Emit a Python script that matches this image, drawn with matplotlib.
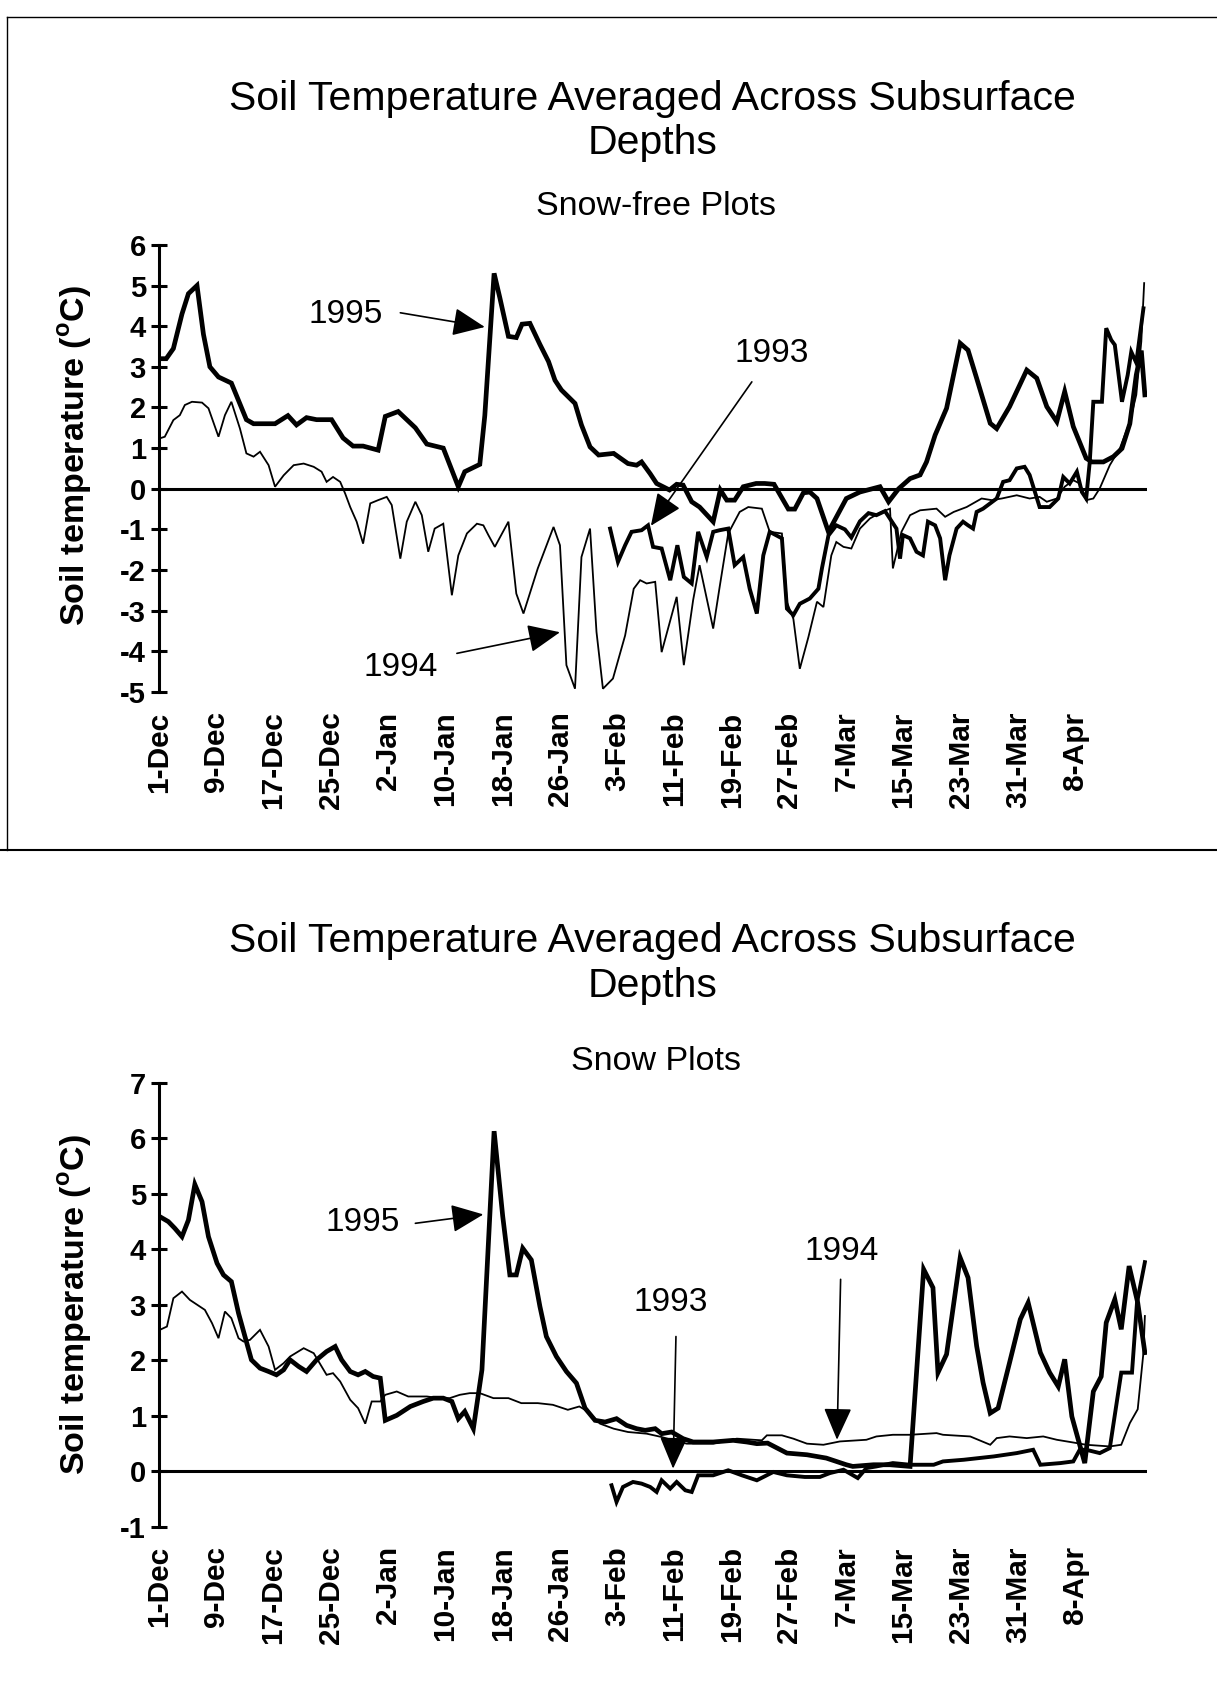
import matplotlib.pyplot as plt
from matplotlib.lines import Line2D

plt.rcParams['font.family'] = ['Liberation Sans', 'DejaVu Sans']
plt.rcParams['axes.unicode_minus'] = False

# days are counted from 1 December
tick_days = [0, 8, 16, 24, 32, 40, 48, 56, 64, 72, 80, 88, 96, 104, 112, 120, 128]
tick_labels = ['1-Dec', '9-Dec', '17-Dec', '25-Dec', '2-Jan', '10-Jan', '18-Jan',
               '26-Jan', '3-Feb', '11-Feb', '19-Feb', '27-Feb', '7-Mar', '15-Mar',
               '23-Mar', '31-Mar', '8-Apr']

# --- Snow-free plots ---
free_1995_day = [0, 1, 2, 3.2, 4.1, 5.3, 6.2, 7.1, 8.3, 10.1, 12.2, 13.2, 16.2, 18.0, 19.2,
                 20.6, 22.0, 24.1, 25.7, 27.1, 28.5, 30.6, 31.6, 33.4, 35.8, 37.4, 39.7,
                 41.8, 42.7, 44.8, 45.5, 46.8, 47.6, 48.8, 49.9, 50.7, 51.8, 53.2, 54.4,
                 55.3, 56.2, 58.1, 59.0, 60.2, 61.4, 63.5, 65.5, 66.7, 67.4, 68.6, 69.5,
                 71.3, 72.3, 73.2, 74.4, 75.5, 77.4, 78.4, 79.3, 80.4, 81.6, 83.4, 84.6,
                 85.9, 87.9, 88.8, 90.0, 90.9, 91.9, 93.5, 96.0, 97.9, 100.7, 101.9, 103.3,
                 104.9, 106.3, 107.2, 108.4, 110.0, 111.9, 113.0, 114.2, 116.1, 117.0,
                 118.8, 121.2, 122.6, 124.0, 125.4, 126.5, 127.7, 129.5, 130.3, 131.9,
                 133.3, 134.5, 135.6, 136.5, 137.2, 137.7]
free_1995_val = [3.2, 3.2, 3.45, 4.3, 4.8, 5.0, 3.8, 3.0, 2.75, 2.6, 1.7, 1.6, 1.6, 1.8, 1.57,
                 1.75, 1.7, 1.7, 1.25, 1.05, 1.05, 0.95, 1.78, 1.9, 1.5, 1.1, 1.0,
                 0.05, 0.42, 0.6, 1.8, 5.3, 4.7, 3.75, 3.72, 4.05, 4.07, 3.55, 3.13,
                 2.67, 2.43, 2.1, 1.57, 1.03, 0.83, 0.87, 0.62, 0.58, 0.66, 0.37, 0.13,
                 -0.03, 0.11, 0.09, -0.32, -0.45, -0.81, -0.03, -0.28, -0.28, 0.05, 0.13, 0.13,
                 0.11, -0.5, -0.5, -0.1, -0.08, -0.24, -1.06, -0.24, -0.08, 0.05, -0.32, 0.0,
                 0.25, 0.34, 0.66, 1.32, 1.98, 3.58, 3.41, 2.72, 1.61, 1.48,
                 2.02, 2.92, 2.72, 2.02, 1.65, 2.39, 1.53, 0.75, 0.66, 0.66,
                 0.79, 0.99, 1.6, 2.8, 3.4, 2.31]

free_1993_day = [63.0, 64.1, 65.1, 66.0, 67.4, 68.3, 69.0, 70.2, 71.4, 72.4, 73.3, 74.4, 75.3,
                 76.5, 77.4, 78.3, 79.5, 80.4, 81.6, 82.5, 83.5, 84.4, 85.3, 87.0, 87.7,
                 88.6, 89.5, 90.9, 92.1, 92.6, 93.5, 94.6, 95.8, 96.7, 97.9, 99.1, 100.2,
                 101.4, 103.0, 103.5, 103.9, 104.9, 105.8, 106.7, 107.4, 108.4, 109.1,
                 109.8, 110.4, 111.4, 112.3, 113.0, 113.7, 114.2, 115.1, 117.0, 117.9,
                 118.8, 119.8, 120.9, 121.6, 123.0, 124.4, 125.6, 126.3, 127.2, 128.2,
                 128.9, 129.5, 130.0, 130.5, 131.7, 132.3, 133.0, 133.5, 134.5, 135.3,
                 135.8, 136.5, 137.5]
free_1993_val = [-0.98, -1.8, -1.39, -1.06, -1.02, -0.9, -1.43, -1.47, -2.25, -1.39, -2.17, -2.33, -1.06,
                 -1.68, -1.06, -1.02, -0.98, -1.88, -1.68, -2.46, -3.07, -1.64, -1.06, -1.22, -2.95,
                 -3.11, -2.83, -2.7, -2.46, -1.95, -1.15, -0.9, -1.0, -1.2, -0.8, -0.6, -0.65,
                 -0.55, -0.98, -1.72, -1.14, -1.22, -1.55, -1.64, -0.81, -0.9, -1.22,
                 -2.25, -1.64, -0.98, -0.81, -0.9, -0.98, -0.57, -0.49, -0.24, 0.17,
                 0.21, 0.5, 0.54, 0.34, -0.45, -0.45, -0.24, 0.29, 0.13, 0.42,
                 -0.08, -0.24, 0.66, 2.14, 2.14, 3.95, 3.66, 3.54, 2.14, 2.8,
                 3.37, 3.1, 4.44]

free_1994_day = [0.1, 0.8, 2.0, 2.9, 3.6, 4.6, 6.0, 6.9, 8.3, 9.2, 10.1, 11.3, 12.2, 13.2, 14.1,
                 15.3, 16.2, 17.4, 18.8, 20.2, 21.6, 22.7, 23.4, 24.3, 25.3, 26.0, 26.7, 27.6,
                 28.5, 29.5, 30.6, 31.8, 32.5, 33.7, 34.6, 35.8, 36.7, 37.6, 38.5, 39.7, 40.9,
                 41.8, 43.0, 44.4, 45.3, 46.0, 46.9, 48.8, 49.9, 50.9, 52.9, 55.1, 56.0, 56.9,
                 58.1, 59.0, 60.2, 61.1, 62.0, 63.4, 65.1, 66.3, 67.2, 68.1, 69.3, 70.2, 72.3,
                 73.3, 74.6, 75.5, 77.4, 78.3, 79.5, 81.1, 82.3, 84.2, 85.3, 87.0, 87.7, 88.6,
                 89.5, 90.7, 91.9, 92.8, 93.9, 94.6, 95.6, 96.7, 97.9, 99.3, 100.9, 102.1,
                 102.5, 103.7, 104.9, 106.3, 108.6, 109.8, 111.0, 112.8, 114.9, 116.3, 117.7,
                 119.8, 121.6, 123.0, 124.0, 125.4, 126.5, 127.7, 128.6, 129.5, 130.5, 131.4,
                 132.8, 134.2, 135.6, 136.5, 137.2, 137.6]
free_1994_val = [1.24, 1.28, 1.69, 1.81, 2.06, 2.14, 2.12, 1.98, 1.28, 1.81, 2.14, 1.48, 0.87, 0.79, 0.91,
                 0.58, 0.05, 0.33, 0.58, 0.62, 0.54, 0.42, 0.17, 0.29, 0.17, -0.12, -0.45, -0.81,
                 -1.35, -0.36, -0.28, -0.2, -0.4, -1.72, -0.81, -0.32, -0.65, -1.55, -0.98, -0.86, -2.62,
                 -1.64, -1.1, -0.86, -0.9, -1.14, -1.43, -0.81, -2.58, -3.07, -1.96, -0.94, -1.39, -4.34,
                 -4.92, -1.68, -0.98, -3.52, -4.92, -4.67, -3.61, -2.46, -2.25, -2.33, -2.29, -4.02, -2.66,
                 -4.34, -2.74, -1.88, -3.44, -2.42, -1.1, -0.57, -0.45, -0.49, -1.06, -1.1, -2.79, -3.2,
                 -4.43, -3.65, -2.78, -2.91, -1.64, -1.31, -1.43, -1.47, -0.98, -0.73, -0.57, -0.49,
                 -1.96, -1.06, -0.65, -0.53, -0.49, -0.69, -0.57, -0.45, -0.24, -0.28, -0.24,
                 -0.16, -0.24, -0.2, -0.32, -0.24, 0.05, 0.21, 0.13, -0.28, -0.24, 0.01,
                 0.58, 0.99, 1.65, 2.31, 3.62, 5.06]

# --- Snow plots ---
snow_1995_day = [0.1, 1.3, 2.2, 3.2, 4.1, 5.0, 6.0, 6.9, 8.1, 9.0, 10.1, 11.1, 12.0, 12.9, 14.1,
                 15.3, 16.4, 17.4, 18.3, 19.5, 20.6, 22.0, 23.4, 24.6, 25.5, 26.7, 27.8, 28.8,
                 29.9, 30.9, 31.6, 33.2, 35.1, 36.9, 38.3, 39.7, 40.9, 41.8, 42.7, 43.9, 45.1,
                 46.8, 48.0, 49.0, 49.9, 50.8, 52.0, 53.2, 54.1, 55.5, 56.9, 58.3, 59.5, 60.9,
                 62.3, 63.9, 65.3, 66.7, 67.9, 69.3, 70.2, 71.6, 73.2, 74.6, 77.4, 80.2, 82.1,
                 83.5, 85.0, 87.7, 90.5, 93.2, 96.0, 96.9, 99.8, 102.1, 104.9, 106.8, 108.1,
                 108.8, 110.0, 111.9, 113.0, 114.2, 115.1, 116.1, 117.2, 118.8, 120.3, 121.4,
                 123.1, 124.4, 125.6, 126.5, 127.5, 128.4, 129.3, 130.5, 131.6, 132.3, 133.5,
                 134.4, 135.5, 136.7, 137.7]
snow_1995_val = [4.59, 4.5, 4.38, 4.23, 4.53, 5.17, 4.86, 4.23, 3.75, 3.54, 3.42, 2.85, 2.43, 2.01, 1.86,
                 1.8, 1.74, 1.83, 2.01, 1.89, 1.8, 2.01, 2.16, 2.25, 2.01, 1.8, 1.74, 1.8,
                 1.71, 1.68, 0.92, 1.01, 1.17, 1.26, 1.32, 1.32, 1.26, 0.95, 1.08, 0.77, 1.83,
                 6.13, 4.6, 3.54, 3.54, 4.02, 3.81, 2.97, 2.43, 2.07, 1.8, 1.59, 1.14, 0.92,
                 0.89, 0.95, 0.83, 0.77, 0.74, 0.77, 0.68, 0.71, 0.59, 0.53, 0.53, 0.56, 0.53,
                 0.5, 0.51, 0.33, 0.3, 0.24, 0.12, 0.09, 0.12, 0.12, 0.09, 3.64, 3.31,
                 1.78, 2.11, 3.85, 3.49, 2.26, 1.6, 1.05, 1.14, 1.96, 2.74, 3.04,
                 2.14, 1.78, 1.53, 2.02, 0.99, 0.57, 0.15, 1.44, 1.71, 2.68, 3.1,
                 2.56, 3.7, 3.04, 2.14]

snow_1993_day = [63.2, 63.9, 64.8, 66.2, 67.4, 68.6, 69.5, 70.2, 71.4, 72.3, 73.5, 74.4, 75.3,
                 77.4, 79.5, 81.4, 83.5, 85.8, 87.7, 90.2, 92.3, 93.7, 95.6, 97.6, 98.8, 100.2,
                 102.5, 104.9, 108.2, 109.5, 112.4, 116.6, 119.8, 122.1, 123.1, 125.9, 127.7,
                 128.6, 129.5, 131.4, 132.8, 134.4, 135.9, 136.6, 137.7]
snow_1993_val = [-0.25, -0.55, -0.28, -0.19, -0.22, -0.28, -0.37, -0.16, -0.31, -0.19, -0.34, -0.37, -0.07,
                 -0.07, 0.02, -0.07, -0.16, -0.01, -0.07, -0.1, -0.1, -0.03, 0.03, -0.12, 0.06, 0.09,
                 0.15, 0.12, 0.12, 0.18, 0.21, 0.27, 0.33, 0.39, 0.12, 0.15, 0.18,
                 0.39, 0.39, 0.33, 0.42, 1.78, 1.78, 3.04, 3.77]

snow_1994_day = [0.1, 1.1, 2.0, 3.2, 4.3, 5.7, 6.4, 7.4, 8.3, 9.2, 10.1, 11.1, 11.8, 12.7, 14.1,
                 15.3, 16.2, 17.4, 18.3, 20.2, 21.6, 23.4, 24.3, 25.3, 26.7, 27.8, 28.8, 29.7,
                 30.9, 31.6, 33.2, 34.8, 37.4, 39.2, 40.6, 42.0, 43.4, 44.8, 46.7, 48.8, 50.6,
                 52.9, 55.0, 57.1, 58.7, 59.9, 61.6, 63.5, 65.5, 68.1, 70.2, 71.8, 73.7, 77.4,
                 80.7, 84.2, 84.9, 87.0, 88.6, 90.5, 92.8, 95.1, 98.8, 100.2, 102.5, 104.9,
                 108.6, 109.5, 113.3, 116.1, 117.0, 118.8, 121.2, 123.5, 125.4, 128.2, 129.5,
                 132.8, 134.4, 135.6, 136.7, 137.5, 137.7]
snow_1994_val = [2.55, 2.61, 3.12, 3.24, 3.09, 2.97, 2.91, 2.67, 2.4, 2.88, 2.76, 2.4, 2.34, 2.37, 2.55,
                 2.25, 1.83, 1.95, 2.07, 2.22, 2.13, 1.74, 1.77, 1.62, 1.29, 1.14, 0.86, 1.26,
                 1.26, 1.38, 1.44, 1.35, 1.35, 1.32, 1.32, 1.38, 1.41, 1.41, 1.32, 1.32, 1.23,
                 1.23, 1.2, 1.11, 1.17, 1.08, 0.86, 0.77, 0.71, 0.68, 0.62, 0.56, 0.5, 0.5,
                 0.59, 0.56, 0.65, 0.65, 0.59, 0.5, 0.48, 0.54, 0.57, 0.63, 0.66, 0.66,
                 0.69, 0.66, 0.63, 0.48, 0.6, 0.63, 0.6, 0.63, 0.57, 0.51, 0.48,
                 0.45, 0.48, 0.87, 1.12, 2.14, 2.8]

YLABEL = r'Soil temperature ($^{\mathregular{o}}$C)'
ARROW = dict(arrowstyle='-|>,head_length=0.8,head_width=0.35', color='k', lw=1.2,
             mutation_scale=25, shrinkA=0, shrinkB=0)


def draw_panel(ax, series, ylim, notes):
    """
    Draw one soil temperature panel
    :param series: list of (days, values, linewidth)
    :param notes: list of (label, text xy, arrow start, arrow tip)
    """
    for days, vals, lw in series:
        ax.plot(days, vals, color='k', lw=lw, solid_joinstyle='miter')
    ax.axhline(0, color='k', lw=2.2)

    ax.set_xlim(0, 138)
    ax.set_ylim(*ylim)
    for side in ['top', 'right', 'bottom']:
        ax.spines[side].set_visible(False)
    ax.spines['left'].set_linewidth(2.2)

    yticks = list(range(ylim[0], ylim[1] + 1))
    ax.set_yticks(yticks)
    ax.set_yticklabels([str(t) for t in yticks], fontsize=21, fontweight='bold')
    ax.tick_params(axis='y', direction='inout', length=11, width=2.2, pad=4)

    ax.set_xticks(tick_days)
    ax.set_xticklabels(tick_labels, rotation=90, fontsize=21.5, fontweight='bold')
    ax.tick_params(axis='x', length=0, pad=14)

    ax.set_ylabel(YLABEL, fontsize=24.5, fontweight='bold')

    for label, text_xy, start, tip in notes:
        ax.text(text_xy[0], text_xy[1], label, fontsize=24, ha='center', va='center')
        ax.annotate('', xy=tip, xytext=start, arrowprops=ARROW)


fig = plt.figure(figsize=(12.17, 16.82), dpi=100)

# top panel: snow-free plots
ax1 = fig.add_axes([0.1307, 0.5886, 0.8118, 0.2658])
draw_panel(ax1,
           [(free_1994_day, free_1994_val, 1.3),
            (free_1993_day, free_1993_val, 2.8),
            (free_1995_day, free_1995_val, 3.4)],
           (-5, 6),
           [('1995', (26.0, 4.28), (33.7, 4.33), (45.5, 3.98)),
            ('1993', (85.6, 3.34), (82.8, 2.63), (68.7, -0.91)),
            ('1994', (33.7, -4.39), (41.6, -4.05), (56.0, -3.53))])
ax1.yaxis.set_label_coords(-0.066, 0.53)
fig.text(0.536, 0.941, 'Soil Temperature Averaged Across Subsurface', fontsize=29.5,
         ha='center', va='center')
fig.text(0.536, 0.915, 'Depths', fontsize=29.5, ha='center', va='center')
fig.text(0.539, 0.877, 'Snow-free Plots', fontsize=24.5, ha='center', va='center')

# bottom panel: snow plots
ax2 = fig.add_axes([0.1307, 0.0922, 0.8118, 0.2640])
draw_panel(ax2,
           [(snow_1994_day, snow_1994_val, 1.3),
            (snow_1993_day, snow_1993_val, 2.8),
            (snow_1995_day, snow_1995_val, 3.4)],
           (-1, 7),
           [('1995', (28.4, 4.49), (35.8, 4.47), (45.3, 4.63)),
            ('1993', (71.4, 3.04), (72.2, 2.43), (71.8, 0.05)),
            ('1994', (95.3, 3.97), (95.2, 3.46), (94.7, 0.57))])
ax2.yaxis.set_label_coords(-0.066, 0.5)
fig.text(0.536, 0.4405, 'Soil Temperature Averaged Across Subsurface', fontsize=29.5,
         ha='center', va='center')
fig.text(0.536, 0.4137, 'Depths', fontsize=29.5, ha='center', va='center')
fig.text(0.539, 0.3692, 'Snow Plots', fontsize=24.5, ha='center', va='center')

# page frame of the scanned sheet
fig.add_artist(Line2D([0.006, 1.0], [0.9899, 0.9899], transform=fig.transFigure, color='k', lw=1))
fig.add_artist(Line2D([0.006, 0.006], [0.9899, 0.4946], transform=fig.transFigure, color='k', lw=1))
fig.add_artist(Line2D([0.0, 1.0], [0.4946, 0.4946], transform=fig.transFigure, color='k', lw=1.5))

plt.savefig('out.png', dpi=100)
plt.close('all')
